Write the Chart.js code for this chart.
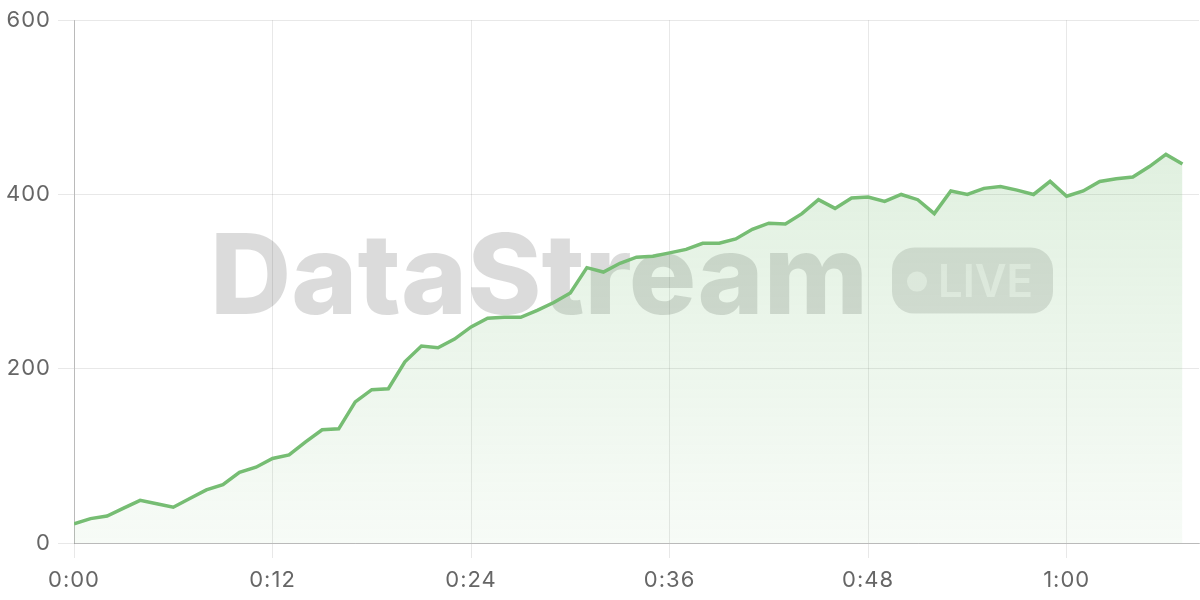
<!DOCTYPE html>
<html>
<head>
<meta charset="utf-8">
<script src="https://cdn.jsdelivr.net/npm/chart.js@4/dist/chart.umd.min.js"></script>
<style>
  html, body { margin: 0; padding: 0; background: #fff; }
  #wrap { width: 1200px; height: 600px; }
</style>
</head>
<body>
<div id="wrap"><canvas id="c" width="1200" height="600"></canvas></div>
<script>
// Minutes since start (x) and values (y)
const minutes = [0,1,2,3,4,5,6,7,8,9,10,11,12,13,14,15,16,17,18,19,20,21,22,23,24,25,26,27,28,29,30,31,32,33,34,35,36,37,38,39,40,41,42,43,44,45,46,47,48,49,50,51,52,53,54,55,56,57,58,59,60,61,62,63,64,65,66,67];
const values = [22,28,31,40,49,45,41,51,61,67,81,87,97,101,116,130,131,162,176,177,208,226,224,234,248,258,259,259,267,276,287,316,311,321,328,329,333,337,344,344,349,360,367,366,378,394,384,396,397,392,400,394,378,404,400,407,409,405,400,415,398,404,415,418,420,432,446,435];
const xTicks = [0,12,24,36,48,60];
const yTicks = [0,200,400,600];
const watermarkText = 'DataStream';
const badgeText = 'LIVE';

function fmtTime(m) {
  const h = Math.floor(m / 60);
  const mm = m % 60;
  return h + ':' + String(mm).padStart(2, '0');
}

const points = minutes.map((m, i) => ({ x: m, y: values[i] }));

const spacing = {
  id: 'spacing',
  beforeInit(chart) { chart.ctx.letterSpacing = '1px'; },
  beforeUpdate(chart) { chart.ctx.letterSpacing = '1px'; },
  beforeDraw(chart) { chart.ctx.letterSpacing = '1px'; }
};

const watermark = {
  id: 'watermark',
  beforeDatasetsDraw(chart) {
    const { ctx, chartArea } = chart;
    const cx = (chartArea.left + chartArea.right) / 2 - 5;
    const cy = (chartArea.top + chartArea.bottom) / 2;
    ctx.save();
    ctx.letterSpacing = '0px';
    ctx.font = '800 111px Inter, "Open Sans", sans-serif';
    const rawW = ctx.measureText(watermarkText).width;
    const tw = 658;
    const sxScale = tw / rawW;
    const bw = 161, bh = 66, gap = 24;
    const total = tw + gap + bw;
    const sx = cx - total / 2;
    ctx.fillStyle = 'rgba(0,0,0,0.14)';
    ctx.textBaseline = 'alphabetic';
    ctx.textAlign = 'left';
    ctx.save();
    ctx.translate(sx, cy + 32);
    ctx.scale(sxScale, 1);
    ctx.fillText(watermarkText, 0, 0);
    ctx.restore();
    // badge
    const bx = sx + tw + gap;
    const by = cy - 34;
    const r = 22;
    ctx.beginPath();
    ctx.moveTo(bx + r, by);
    ctx.lineTo(bx + bw - r, by);
    ctx.arcTo(bx + bw, by, bx + bw, by + r, r);
    ctx.lineTo(bx + bw, by + bh - r);
    ctx.arcTo(bx + bw, by + bh, bx + bw - r, by + bh, r);
    ctx.lineTo(bx + r, by + bh);
    ctx.arcTo(bx, by + bh, bx, by + bh - r, r);
    ctx.lineTo(bx, by + r);
    ctx.arcTo(bx, by, bx + r, by, r);
    ctx.closePath();
    ctx.fillStyle = 'rgba(0,0,0,0.12)';
    ctx.fill();
    ctx.fillStyle = 'rgba(255,255,255,0.55)';
    ctx.beginPath();
    ctx.arc(bx + 25, by + bh / 2 + 1, 10, 0, Math.PI * 2);
    ctx.fill();
    ctx.font = '600 45px Inter, "Open Sans", sans-serif';
    const lw = ctx.measureText(badgeText).width;
    ctx.save();
    ctx.translate(bx + 46, by + bh / 2 + 16);
    ctx.scale(95 / lw, 1);
    ctx.fillText(badgeText, 0, 0);
    ctx.restore();
    ctx.restore();
  }
};

const tickFont = { family: 'Inter, "Open Sans", sans-serif', size: 22 };

new Chart(document.getElementById('c'), {
  type: 'line',
  data: {
    datasets: [{
      data: points,
      borderColor: '#76bd73',
      borderWidth: 3.5,
      pointRadius: 0,
      tension: 0,
      fill: 'origin',
      backgroundColor(context) {
        const { chart } = context;
        const area = chart.chartArea;
        if (!area) return 'rgba(118,189,115,0.15)';
        const g = chart.ctx.createLinearGradient(0, area.top, 0, area.bottom);
        g.addColorStop(0, 'rgba(118,189,115,0.28)');
        g.addColorStop(1, 'rgba(118,189,115,0.06)');
        return g;
      }
    }]
  },
  options: {
    responsive: false,
    animation: false,
    devicePixelRatio: 1,
    layout: { padding: { top: 19, right: 1, left: 0, bottom: 0 } },
    plugins: { legend: { display: false }, tooltip: { enabled: false } },
    scales: {
      x: {
        type: 'linear',
        min: 0,
        max: 68,
        afterFit(s) { s.height = 57; },
        afterBuildTicks(s) { s.ticks = xTicks.map(v => ({ value: v })); },
        ticks: {
          includeBounds: false,
          stepSize: 12,
          color: '#666',
          font: tickFont,
          padding: 9,
          maxRotation: 0,
          callback: v => fmtTime(v)
        },
        grid: { color: 'rgba(0,0,0,0.09)', tickLength: 15 },
        border: { color: 'rgba(0,0,0,0.2)' }
      },
      y: {
        min: 0,
        max: 600,
        afterFit(s) { s.width = 74; },
        afterBuildTicks(s) { s.ticks = yTicks.map(v => ({ value: v })); },
        ticks: {
          color: '#666',
          font: tickFont,
          padding: 7
        },
        grid: { color: 'rgba(0,0,0,0.09)', tickLength: 16 },
        border: { color: 'rgba(0,0,0,0.2)' }
      }
    }
  },
  plugins: [spacing, watermark]
});
</script>
</body>
</html>
